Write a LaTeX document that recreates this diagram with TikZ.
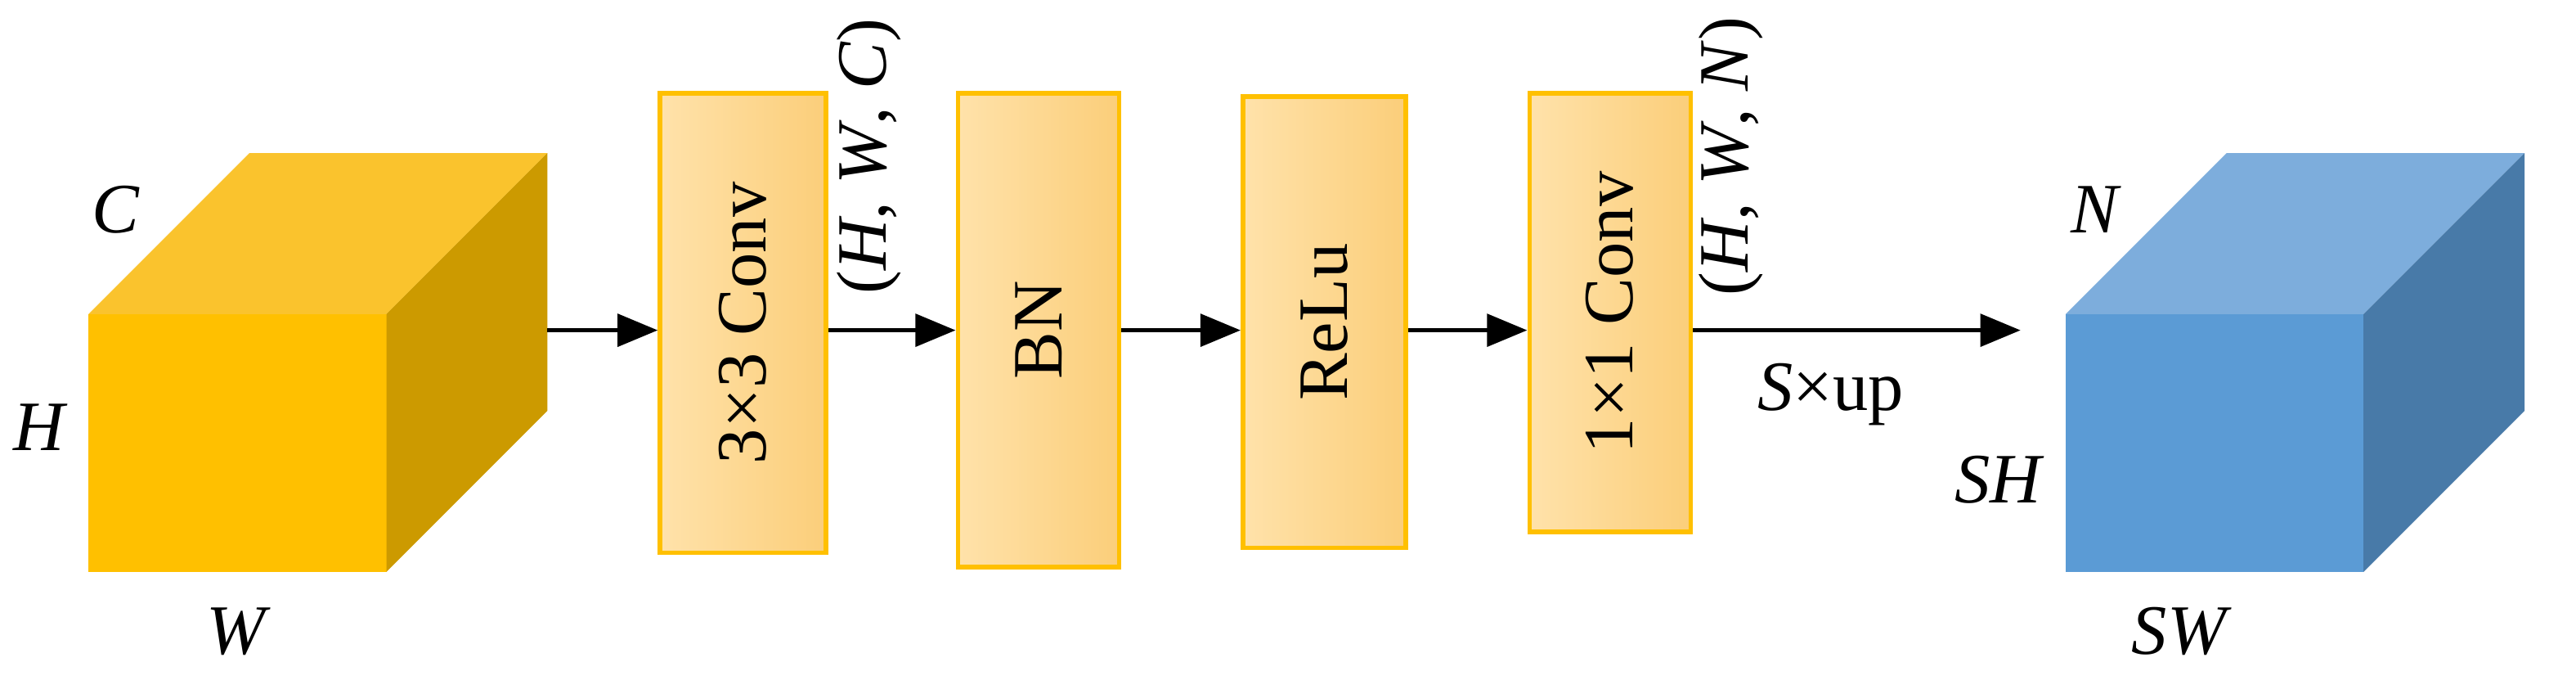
\documentclass[tikz,border=0pt]{standalone}
\usepackage{fontspec}
\setmainfont{Liberation Serif}
\usetikzlibrary{arrows.meta}
\definecolor{ybox}{HTML}{FFC000}
\definecolor{gl}{RGB}{255,226,170}
\definecolor{gr}{RGB}{251,206,122}
\begin{document}
\begin{tikzpicture}[x=0.01cm,y=-0.01cm,
  lay/.style={draw=ybox,line width=0.8pt,left color=gl,right color=gr,inner sep=0pt},
  arr/.style={-{Triangle[length=0.25cm,width=0.2cm]},line width=0.8pt},
  lbl/.style={font=\fontsize{12.5}{14}\selectfont}]
\useasboundingbox (0,0) rectangle (1600,421.6);
% yellow cube
\fill[ybox] (55,195) rectangle (240,355);
\fill[color={rgb,255:red,250;green,195;blue,45}] (55,195)--(155,95)--(340,95)--(240,195)--cycle;
\fill[color={rgb,255:red,204;green,154;blue,0}] (240,195)--(340,95)--(340,255)--(240,355)--cycle;
\coordinate (ycube) at (340,205);
% blue cube
\fill[color={rgb,255:red,91;green,155;blue,213}] (1283,195) rectangle (1468,355);
\fill[color={rgb,255:red,125;green,173;blue,220}] (1283,195)--(1383,95)--(1568,95)--(1468,195)--cycle;
\fill[color={rgb,255:red,72;green,122;blue,168}] (1468,195)--(1568,95)--(1568,255)--(1468,355)--cycle;
\coordinate (bcube) at (1255,205);
% layers
\node[lay,minimum width=1.03cm,minimum height=2.85cm] (c3) at (461.5,200.5) {\rotatebox{90}{\fontsize{12.5}{14}\selectfont 3×3 Conv}};
\node[lay,minimum width=1.0cm,minimum height=2.94cm] (bn) at (645,205) {\rotatebox{90}{\fontsize{12.5}{14}\selectfont BN}};
\node[lay,minimum width=1.01cm,minimum height=2.8cm] (relu) at (822.5,200) {\rotatebox{90}{\fontsize{12.5}{14}\selectfont ReLu}};
\node[lay,minimum width=1.0cm,minimum height=2.72cm] (c1) at (1000,194) {\rotatebox{90}{\fontsize{12.5}{14}\selectfont 1×1 Conv}};
% arrows
\draw[arr] (ycube) -- (c3.west|-ycube);
\draw[arr] (c3.east|-ycube) -- (bn.west|-ycube);
\draw[arr] (bn.east|-ycube) -- (relu.west|-ycube);
\draw[arr] (relu.east|-ycube) -- (c1.west|-ycube);
\draw[arr] (c1.east|-ycube) -- (bcube);
% labels
\node[lbl] (lc) at (72,130) {\textit{C}};
\node[lbl] (lh) at (25,265) {\textit{H}};
\node[lbl] (lw) at (148,392) {\textit{W}};
\node[lbl] (ln) at (1302,130) {\textit{N}};
\node[lbl] (lsh) at (1242,298) {\textit{SH}};
\node[lbl] (lsw) at (1355,392) {\textit{SW}};
\node[lbl,rotate=90] (hwc) at (540,97) {(\textit{H}, \textit{W}, \textit{C})};
\node[lbl,rotate=90] (hwn) at (1075,97) {(\textit{H}, \textit{W}, \textit{N})};
\node[lbl] (sup) at (1137,245) {\textit{S}×up};
\end{tikzpicture}
\end{document}
